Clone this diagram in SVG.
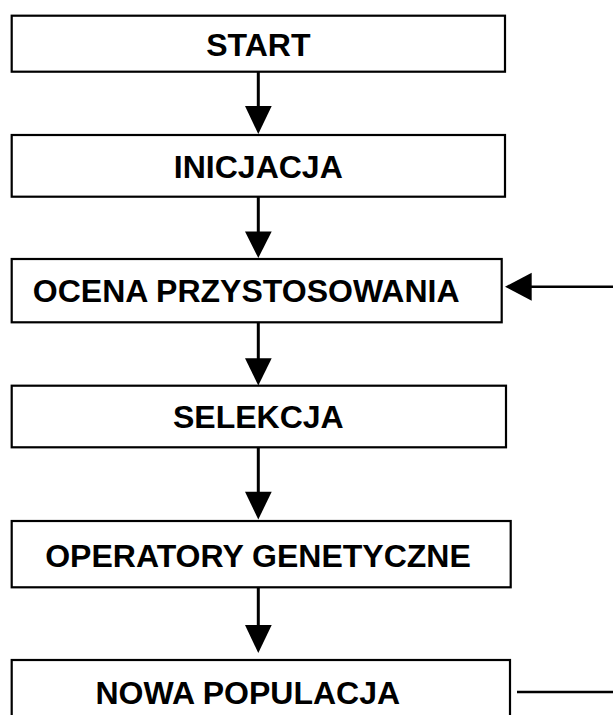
<svg xmlns="http://www.w3.org/2000/svg" width="613" height="715" viewBox="0 0 613 715">
<style>
.box{fill:#fff;stroke:#000;stroke-width:2.2}
.lbl{font-family:"Liberation Sans",Arial,sans-serif;font-weight:bold;font-size:32px;fill:#000}
.c{text-anchor:middle}
.shaft{stroke:#000;stroke-width:3;fill:none}
.thin{stroke:#000;stroke-width:2.4;fill:none}
.head{fill:#000;stroke:none}
</style>
<rect width="613" height="715" fill="#fff"/>
<g id="connectors">
<line class="shaft" x1="258.3" y1="72" x2="258.3" y2="108"/>
<polygon class="head" points="245,106 271.7,106 258.3,134"/>
<line class="shaft" x1="258.3" y1="197" x2="258.3" y2="233"/>
<polygon class="head" points="245,231.5 271.7,231.5 258.3,258"/>
<line class="shaft" x1="258.3" y1="322.5" x2="258.3" y2="360"/>
<polygon class="head" points="245,358.3 271.7,358.3 258.3,385.5"/>
<line class="shaft" x1="258.3" y1="447.5" x2="258.3" y2="494"/>
<polygon class="head" points="245,491.7 271.7,491.7 258.3,519.5"/>
<line class="shaft" x1="258.3" y1="587.5" x2="258.3" y2="627"/>
<polygon class="head" points="245,625 271.7,625 258.3,653"/>
<line class="thin" x1="530" y1="286.7" x2="613" y2="286.7"/>
<polygon class="head" points="505,286.7 531.7,272.7 531.7,300.7"/>
<line class="thin" x1="517" y1="692" x2="613" y2="692"/>
</g>
<g id="start">
<rect class="box" x="11.7" y="15.7" width="493.3" height="56"/>
<text class="lbl c" x="258.3" y="56.3">START</text>
</g>
<g id="inicjacja">
<rect class="box" x="11.7" y="135" width="493.3" height="61.7"/>
<text class="lbl c" x="258.3" y="178.3">INICJACJA</text>
</g>
<g id="ocena">
<rect class="box" x="11.7" y="259" width="490" height="63.3"/>
<text class="lbl c" x="246.2" y="301.7">OCENA PRZYSTOSOWANIA</text>
</g>
<g id="selekcja">
<rect class="box" x="11.7" y="385.7" width="494.3" height="61.6"/>
<text class="lbl c" x="258.3" y="428.3">SELEKCJA</text>
</g>
<g id="operatory">
<rect class="box" x="11.7" y="521" width="499" height="66.3"/>
<text class="lbl c" x="258" y="567.3">OPERATORY GENETYCZNE</text>
</g>
<g id="nowa">
<rect class="box" x="11.7" y="660" width="498.3" height="70"/>
<text class="lbl c" x="247.8" y="704">NOWA POPULACJA</text>
</g>
</svg>
